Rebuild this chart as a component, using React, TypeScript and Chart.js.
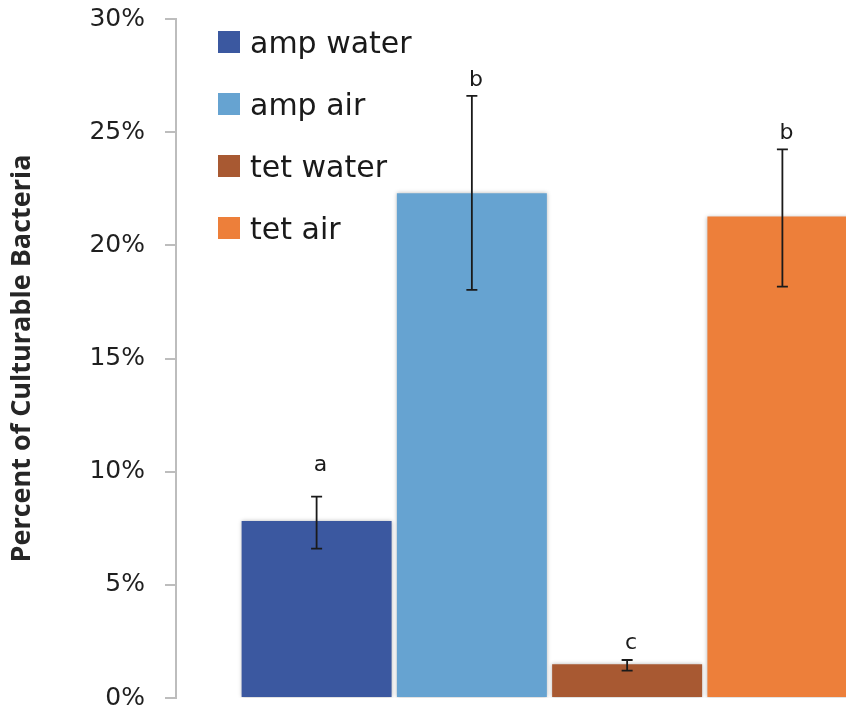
import React, { useEffect, useRef } from "react";
import { Chart, registerables } from "chart.js";

Chart.register(...registerables);

const categories = [""];
const seriesNames = ["amp water", "amp air", "tet water", "tet air"];
const seriesValues = [7.82, 22.3, 1.49, 21.27];
const errorHigh = [8.9, 26.6, 1.68, 24.24];
const errorLow = [6.6, 18.03, 1.21, 18.18];
const letters = ["a", "b", "c", "b"];
const letterValues = [10.3, 27.31, 2.43, 24.97];
const yMin = 0;
const yMax = 30;
const yStep = 5;
const yTitle = "Percent of Culturable Bacteria";
const colors = ["#3B58A0", "#66A3D1", "#A85932", "#ED7F3A"];

const shadowPlugin = {
  id: "barShadow",
  beforeDatasetsDraw(chart: any) {
    const ctx = chart.ctx;
    ctx.save();
    ctx.shadowColor = "rgba(0,0,0,0.28)";
    ctx.shadowBlur = 4;
    ctx.shadowOffsetX = 0;
    ctx.shadowOffsetY = 0;
  },
  afterDatasetsDraw(chart: any) {
    chart.ctx.restore();
  },
};

const errorPlugin = {
  id: "errorBars",
  afterDatasetsDraw(chart: any) {
    const ctx = chart.ctx;
    const y = chart.scales.y;
    ctx.save();
    ctx.shadowColor = "transparent";
    chart.data.datasets.forEach((_: any, i: number) => {
      const meta = chart.getDatasetMeta(i);
      const bar = meta.data[0];
      if (!bar) return;
      const x = bar.x;
      const hi = y.getPixelForValue(errorHigh[i]);
      const lo = y.getPixelForValue(errorLow[i]);
      ctx.strokeStyle = "#1a1a1a";
      ctx.lineWidth = 1.8;
      ctx.beginPath();
      ctx.moveTo(x, hi);
      ctx.lineTo(x, lo);
      ctx.moveTo(x - 5.5, hi);
      ctx.lineTo(x + 5.5, hi);
      ctx.moveTo(x - 5.5, lo);
      ctx.lineTo(x + 5.5, lo);
      ctx.stroke();
      ctx.fillStyle = "#1a1a1a";
      ctx.font = "22px 'DejaVu Sans'";
      ctx.textAlign = "center";
      ctx.textBaseline = "middle";
      ctx.fillText(letters[i], x + 4, y.getPixelForValue(letterValues[i]));
    });
    ctx.restore();
  },
};

const legendPlugin = {
  id: "insideLegend",
  afterDraw(chart: any) {
    const ctx = chart.ctx;
    ctx.save();
    chart.data.datasets.forEach((ds: any, i: number) => {
      const top = 31 + i * 62;
      ctx.fillStyle = ds.backgroundColor;
      ctx.fillRect(218, top, 22, 22);
      ctx.fillStyle = "#1a1a1a";
      ctx.font = "30px 'DejaVu Sans'";
      ctx.textAlign = "left";
      ctx.textBaseline = "middle";
      ctx.fillText(ds.label, 250, top + 14);
    });
    ctx.restore();
  },
};

export default function App() {
  const ref = useRef<HTMLCanvasElement | null>(null);

  useEffect(() => {
    if (!ref.current) return;
    const chart = new Chart(ref.current, {
      type: "bar",
      data: {
        labels: categories,
        datasets: seriesNames.map((name, i) => ({
          label: name,
          data: [seriesValues[i]],
          backgroundColor: colors[i],
          borderWidth: 0,
          categoryPercentage: 0.8314,
          barPercentage: 0.966,
        })),
      },
      options: {
        animation: false,
        responsive: false,
        devicePixelRatio: 1,
        layout: { padding: { top: 19, bottom: 15, left: 0, right: 17 } },
        plugins: {
          legend: { display: false },
          tooltip: { enabled: false },
        },
        scales: {
          x: { display: false },
          y: {
            min: yMin,
            max: yMax,
            afterFit(scale: any) {
              scale.width = 176;
              scale.paddingTop = 0;
              scale.paddingBottom = 0;
            },
            ticks: {
              stepSize: yStep,
              padding: 20,
              color: "#1f1f1f",
              font: { family: "'DejaVu Sans'", size: 25 },
              callback: (v: any) => v + "%",
            },
            grid: {
              drawOnChartArea: false,
              drawTicks: true,
              tickLength: 11,
              color: "#BDBDBD",
              lineWidth: 2,
            },
            border: { display: true, color: "#BDBDBD", width: 2 },
            title: {
              display: true,
              text: yTitle,
              color: "#262626",
              font: { family: "'Open Sans'", size: 27, weight: "bold" },
              padding: { top: 6, bottom: 0 },
            },
          },
        },
      },
      plugins: [shadowPlugin, errorPlugin, legendPlugin],
    });
    return () => chart.destroy();
  }, []);

  return (
    <div
      style={{
        position: "absolute",
        left: 0,
        top: 0,
        width: 846,
        height: 713,
        overflow: "hidden",
        background: "#fff",
      }}
    >
      <canvas ref={ref} width={940} height={713} style={{ display: "block" }} />
    </div>
  );
}
